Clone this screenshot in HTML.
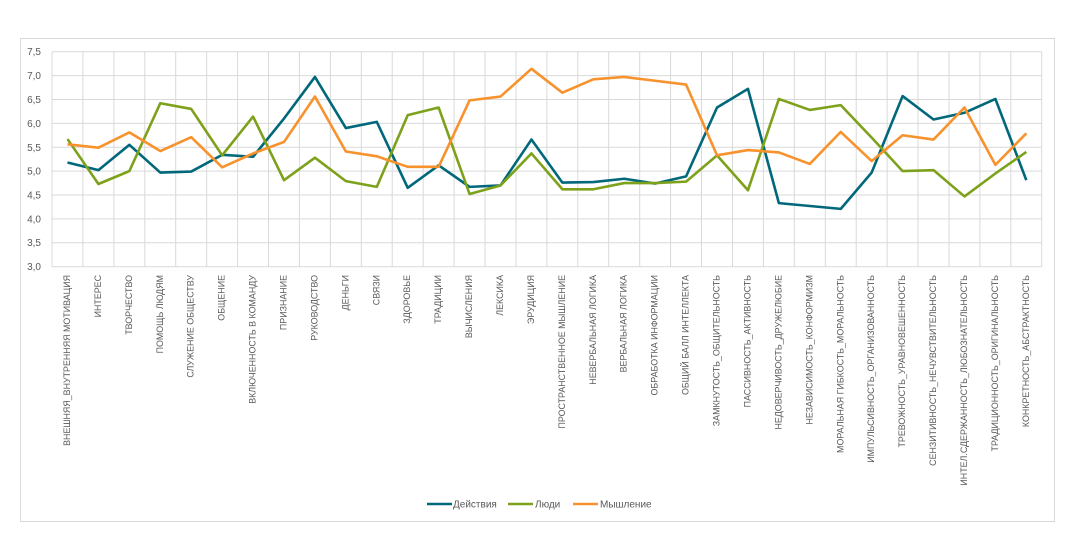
<!DOCTYPE html>
<html><head><meta charset="utf-8"><style>
body{margin:0;background:#fff;}
svg{display:block;font-family:"Liberation Sans",sans-serif;}
</style></head><body>
<svg width="1075" height="560" xmlns="http://www.w3.org/2000/svg">
<rect x="20.5" y="38.5" width="1034" height="483" fill="#fff" stroke="#d9d9d9"/>
<g stroke="#d9d9d9" stroke-width="1">
<line x1="52" y1="51.7" x2="1041.7" y2="51.7"/>
<line x1="52" y1="75.6" x2="1041.7" y2="75.6"/>
<line x1="52" y1="99.5" x2="1041.7" y2="99.5"/>
<line x1="52" y1="123.4" x2="1041.7" y2="123.4"/>
<line x1="52" y1="147.3" x2="1041.7" y2="147.3"/>
<line x1="52" y1="171.1" x2="1041.7" y2="171.1"/>
<line x1="52" y1="195" x2="1041.7" y2="195"/>
<line x1="52" y1="218.9" x2="1041.7" y2="218.9"/>
<line x1="52" y1="242.8" x2="1041.7" y2="242.8"/>
<line x1="52" y1="266.7" x2="1041.7" y2="266.7"/>
</g>
<g stroke="#d9d9d9">
<path d="M52 51.7V266.7M82.9 51.7V266.7M113.9 51.7V266.7M144.8 51.7V266.7M175.7 51.7V266.7M206.7 51.7V266.7M237.6 51.7V266.7M268.5 51.7V266.7M299.4 51.7V266.7M330.4 51.7V266.7M361.3 51.7V266.7M392.2 51.7V266.7M423.2 51.7V266.7M454.1 51.7V266.7M485 51.7V266.7M516 51.7V266.7M546.9 51.7V266.7M577.8 51.7V266.7M608.7 51.7V266.7M639.7 51.7V266.7M670.6 51.7V266.7M701.5 51.7V266.7M732.5 51.7V266.7M763.4 51.7V266.7M794.3 51.7V266.7M825.3 51.7V266.7M856.2 51.7V266.7M887.1 51.7V266.7M918 51.7V266.7M949 51.7V266.7M979.9 51.7V266.7M1010.8 51.7V266.7M1041.7 51.7V266.7"/>
</g>
<g font-size="10" fill="#595959" text-anchor="end">
<text x="41" y="55">7,5</text><text x="41" y="79">7,0</text><text x="41" y="103">6,5</text><text x="41" y="127">6,0</text><text x="41" y="151">5,5</text><text x="41" y="174.5">5,0</text><text x="41" y="198.5">4,5</text><text x="41" y="222.5">4,0</text><text x="41" y="246">3,5</text><text x="41" y="270">3,0</text>
</g>
<g transform="translate(67.5,266.7) scale(30.93,-47.8)" fill="none" stroke-width="2.6" stroke-linejoin="round">
<polyline vector-effect="non-scaling-stroke" stroke="#00687a" points="0,2.18 1,2.02 2,2.55 3,1.97 4,1.99 5,2.34 6,2.30 7,3.1 8,3.97 9,2.9 10,3.03 11,1.65 12,2.12 13,1.67 14,1.70 15,2.66 16,1.76 17,1.77 18,1.84 19,1.74 20,1.89 21,3.33 22,3.72 23,1.33 24,1.27 25,1.21 26,1.97 27,3.57 28,3.08 29,3.22 30,3.51 31,1.81"/>
<polyline vector-effect="non-scaling-stroke" stroke="#7ea11b" points="0,2.67 1,1.73 2,2.0 3,3.42 4,3.30 5,2.33 6,3.14 7,1.81 8,2.28 9,1.79 10,1.67 11,3.17 12,3.33 13,1.52 14,1.70 15,2.37 16,1.62 17,1.62 18,1.75 19,1.75 20,1.78 21,2.33 22,1.60 23,3.51 24,3.28 25,3.38 26,2.7 27,2.0 28,2.02 29,1.47 30,1.95 31,2.4"/>
<polyline vector-effect="non-scaling-stroke" stroke="#f7922d" points="0,2.56 1,2.49 2,2.81 3,2.42 4,2.71 5,2.08 6,2.37 7,2.61 8,3.56 9,2.41 10,2.31 11,2.09 12,2.09 13,3.48 14,3.56 15,4.14 16,3.64 17,3.92 18,3.97 19,3.89 20,3.81 21,2.33 22,2.44 23,2.39 24,2.15 25,2.82 26,2.21 27,2.75 28,2.66 29,3.33 30,2.13 31,2.79"/>
</g>
<g font-size="8.9" fill="#595959" text-anchor="end">
<text transform="translate(70,275) rotate(-90)">ВНЕШНЯЯ_ВНУТРЕННЯЯ МОТИВАЦИЯ</text>
<text transform="translate(100.9,275) rotate(-90)">ИНТЕРЕС</text>
<text transform="translate(131.9,275) rotate(-90)">ТВОРЧЕСТВО</text>
<text transform="translate(162.8,275) rotate(-90)">ПОМОЩЬ ЛЮДЯМ</text>
<text transform="translate(193.7,275) rotate(-90)">СЛУЖЕНИЕ ОБЩЕСТВУ</text>
<text transform="translate(224.7,275) rotate(-90)">ОБЩЕНИЕ</text>
<text transform="translate(255.6,275) rotate(-90)">ВКЛЮЧЕННОСТЬ В КОМАНДУ</text>
<text transform="translate(286.5,275) rotate(-90)">ПРИЗНАНИЕ</text>
<text transform="translate(317.4,275) rotate(-90)">РУКОВОДСТВО</text>
<text transform="translate(348.4,275) rotate(-90)">ДЕНЬГИ</text>
<text transform="translate(379.3,275) rotate(-90)">СВЯЗИ</text>
<text transform="translate(410.2,275) rotate(-90)">ЗДОРОВЬЕ</text>
<text transform="translate(441.2,275) rotate(-90)">ТРАДИЦИИ</text>
<text transform="translate(472.1,275) rotate(-90)">ВЫЧИСЛЕНИЯ</text>
<text transform="translate(503,275) rotate(-90)">ЛЕКСИКА</text>
<text transform="translate(534,275) rotate(-90)">ЭРУДИЦИЯ</text>
<text transform="translate(564.9,275) rotate(-90)">ПРОСТРАНСТВЕННОЕ МЫШЛЕНИЕ</text>
<text transform="translate(595.8,275) rotate(-90)">НЕВЕРБАЛЬНАЯ ЛОГИКА</text>
<text transform="translate(626.7,275) rotate(-90)">ВЕРБАЛЬНАЯ ЛОГИКА</text>
<text transform="translate(657.7,275) rotate(-90)">ОБРАБОТКА ИНФОРМАЦИИ</text>
<text transform="translate(688.6,275) rotate(-90)">ОБЩИЙ БАЛЛ ИНТЕЛЛЕКТА</text>
<text transform="translate(719.5,275) rotate(-90)">ЗАМКНУТОСТЬ_ОБЩИТЕЛЬНОСТЬ</text>
<text transform="translate(750.5,275) rotate(-90)">ПАССИВНОСТЬ_АКТИВНОСТЬ</text>
<text transform="translate(781.4,275) rotate(-90)">НЕДОВЕРЧИВОСТЬ_ДРУЖЕЛЮБИЕ</text>
<text transform="translate(812.3,275) rotate(-90)">НЕЗАВИСИМОСТЬ_КОНФОРМИЗМ</text>
<text transform="translate(843.3,275) rotate(-90)">МОРАЛЬНАЯ ГИБКОСТЬ_МОРАЛЬНОСТЬ</text>
<text transform="translate(874.2,275) rotate(-90)">ИМПУЛЬСИВНОСТЬ_ОРГАНИЗОВАННОСТЬ</text>
<text transform="translate(905.1,275) rotate(-90)">ТРЕВОЖНОСТЬ_УРАВНОВЕШЕННОСТЬ</text>
<text transform="translate(936,275) rotate(-90)">СЕНЗИТИВНОСТЬ_НЕЧУВСТВИТЕЛЬНОСТЬ</text>
<text transform="translate(967,275) rotate(-90)">ИНТЕЛ.СДЕРЖАННОСТЬ_ЛЮБОЗНАТЕЛЬНОСТЬ</text>
<text transform="translate(997.9,275) rotate(-90)">ТРАДИЦИОННОСТЬ_ОРИГИНАЛЬНОСТЬ</text>
<text transform="translate(1028.8,275) rotate(-90)">КОНКРЕТНОСТЬ_АБСТРАКТНОСТЬ</text>
</g>
<g stroke-width="2.6">
<line x1="427" y1="504" x2="452" y2="504" stroke="#00687a"/>
<line x1="508" y1="504" x2="533" y2="504" stroke="#7ea11b"/>
<line x1="573" y1="504" x2="598" y2="504" stroke="#f7922d"/>
</g>
<g font-size="10" fill="#595959">
<text x="453" y="507.5">Действия</text>
<text x="535" y="507.5">Люди</text>
<text x="600" y="507.5">Мышление</text>
</g>
</svg>
</body></html>
